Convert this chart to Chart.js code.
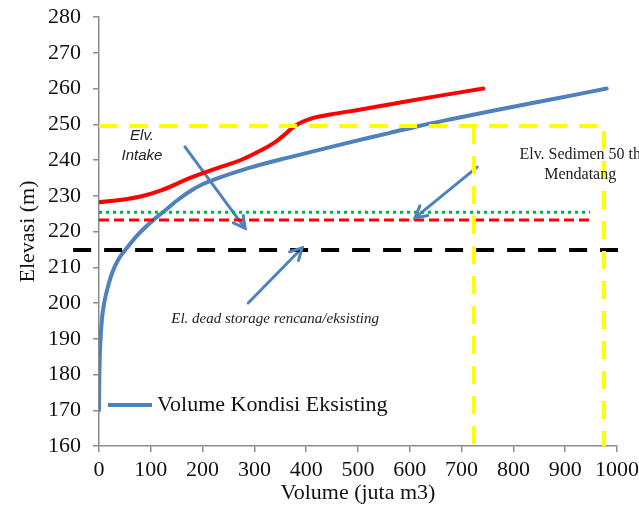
<!DOCTYPE html>
<html><head><meta charset="utf-8">
<script src="https://cdn.jsdelivr.net/npm/chart.js@4/dist/chart.umd.min.js"></script>
<style>html,body{margin:0;padding:0;background:#fff}canvas{display:block}</style>
</head><body>
<canvas id="c" width="639" height="514"></canvas>
<script>
// ---- data ----
const volumeEksisting = [0, 0.5, 1.5, 3, 6, 10, 18, 27, 38, 56, 73, 108, 127, 150, 175, 200, 235, 290, 369, 460, 562, 620, 672, 775, 890, 980];
const elevEksisting   = [170, 178, 185, 190, 196, 200, 205, 209, 212.3, 215.8, 218.8, 223.6, 225.8, 228.6, 231.2, 233.2, 235.2, 237.8, 240.8, 244.1, 247.6, 249.6, 251.2, 254.2, 257.4, 260];

const volumeIntake = [0, 40, 80, 120, 176, 230, 274, 310, 340, 360, 375, 390, 410, 450, 500, 563, 650, 742];
const elevIntake   = [228.2, 228.8, 229.8, 231.5, 235, 237.8, 240, 242.5, 245, 247.3, 249.2, 250.5, 251.6, 252.8, 254, 255.6, 257.8, 260];

const sedimenX  = [0, 975, 975];
const sedimenY  = [249.5, 249.5, 160];
const sedimen2X = [724, 724];
const sedimen2Y = [249.5, 160];

const greenX = [0, 948];
const greenY = [225.4, 225.4];
const redDashX = [0, 950];
const redDashY = [223.2, 223.2];
const deadX = [-50, 1002];
const deadY = [214.8, 214.8];

const arrowIntakeX = [166, 282];
const arrowIntakeY = [243.7, 220.9];
const arrowSedimenX = [730, 610];
const arrowSedimenY = [238, 223.8];
const arrowDeadX = [288, 392];
const arrowDeadY = [200, 215.4];

const xTicksMin = 0, xTicksMax = 1000, xStep = 100;
const yTicksMin = 160, yTicksMax = 280, yStep = 10;

const notes = [
  {text: 'Elv.', x: 83, y: 246.7, font: 'italic 15px "Liberation Sans"'},
  {text: 'Intake', x: 83, y: 241.1, font: 'italic 15px "Liberation Sans"'},
  {text: 'Elv. Sedimen 50 th', x: 929, y: 241.4, font: '16px "Liberation Serif"'},
  {text: 'Mendatang', x: 929, y: 235.8, font: '16px "Liberation Serif"'},
  {text: 'El. dead storage rencana/eksisting', x: 340, y: 195.5, font: 'italic 15px "Liberation Serif"'}
];
const legendLabel = 'Volume Kondisi Eksisting';

const BLUE = '#4f81bd';
const toXY = (xs, ys) => xs.map((x, i) => ({x: x, y: ys[i]}));

const overlay = {
  id: 'overlay',
  afterDatasetsDraw(chart) {
    const ctx = chart.ctx;
    const xs = chart.scales.x, ys = chart.scales.y;
    chart.data.datasets.forEach((ds, i) => {
      if (!ds.arrow) return;
      const pts = chart.getDatasetMeta(i).data;
      const a = pts[pts.length - 2], b = pts[pts.length - 1];
      const ang = Math.atan2(b.y - a.y, b.x - a.x);
      const L = 13;
      ctx.save();
      ctx.strokeStyle = ds.borderColor;
      ctx.lineWidth = ds.borderWidth;
      ctx.lineCap = 'round';
      ctx.beginPath();
      ctx.moveTo(b.x - L * Math.cos(ang - 0.5), b.y - L * Math.sin(ang - 0.5));
      ctx.lineTo(b.x, b.y);
      ctx.lineTo(b.x - L * Math.cos(ang + 0.5), b.y - L * Math.sin(ang + 0.5));
      ctx.stroke();
      ctx.restore();
    });
    ctx.save();
    ctx.fillStyle = '#222';
    ctx.textAlign = 'center';
    ctx.textBaseline = 'middle';
    notes.forEach(n => {
      ctx.font = n.font;
      ctx.fillText(n.text, xs.getPixelForValue(n.x), ys.getPixelForValue(n.y));
    });
    const ly = chart.chartArea.bottom - 41;
    const lx = chart.chartArea.left + 9;
    ctx.strokeStyle = BLUE;
    ctx.lineWidth = 4;
    ctx.beginPath();
    ctx.moveTo(lx, ly);
    ctx.lineTo(lx + 44, ly);
    ctx.stroke();
    ctx.font = '22px "Liberation Serif"';
    ctx.textAlign = 'left';
    ctx.fillStyle = '#111';
    ctx.fillText(legendLabel, lx + 49, ly);
    ctx.restore();
  }
};

const lineDs = (label, xs, ys, color, width, dash, extra) => Object.assign({
  label: label, data: toXY(xs, ys), borderColor: color, borderWidth: width,
  borderDash: dash || [], pointRadius: 0, fill: false, tension: 0, borderCapStyle: 'butt'
}, extra || {});

new Chart(document.getElementById('c'), {
  type: 'line',
  data: {
    datasets: [
      lineDs('Sedimen', sedimenX, sedimenY, '#ffff00', 4, [18, 12]),
      lineDs('Sedimen2', sedimen2X, sedimen2Y, '#ffff00', 4, [18, 12]),
      lineDs('Green', greenX, greenY, '#00b050', 3, [3, 4]),
      lineDs('RedDash', redDashX, redDashY, '#ff0000', 3, [10, 5]),
      lineDs('Dead', deadX, deadY, '#000000', 4, [18, 13], {clip: false}),
      lineDs('Intake', volumeIntake, elevIntake, '#ff0000', 4, null, {cubicInterpolationMode: 'monotone', borderCapStyle: 'round'}),
      lineDs(legendLabel, volumeEksisting, elevEksisting, BLUE, 4, null, {cubicInterpolationMode: 'monotone', borderCapStyle: 'round'}),
      lineDs('a1', arrowIntakeX, arrowIntakeY, BLUE, 3, null, {arrow: true, borderCapStyle: 'round'}),
      lineDs('a2', arrowSedimenX, arrowSedimenY, BLUE, 3, null, {arrow: true, borderCapStyle: 'round'}),
      lineDs('a3', arrowDeadX, arrowDeadY, BLUE, 3, null, {arrow: true, borderCapStyle: 'round'})
    ]
  },
  options: {
    responsive: false,
    animation: false,
    devicePixelRatio: 1,
    layout: {padding: {top: 17, right: 22, left: 0, bottom: 0}},
    plugins: {legend: {display: false}, tooltip: {enabled: false}},
    scales: {
      x: {
        type: 'linear', min: xTicksMin, max: xTicksMax,
        ticks: {stepSize: xStep, color: '#111', padding: 5, maxRotation: 0,
                callback: v => String(v),
                font: {family: 'Liberation Serif', size: 22}},
        grid: {drawOnChartArea: false, drawTicks: true, tickLength: 6, color: '#8c8c8c', lineWidth: 1.5},
        border: {display: true, color: '#8c8c8c', width: 1.5},
        title: {display: true, text: 'Volume (juta m3)', color: '#111', padding: {top: 0, bottom: 8},
                font: {family: 'Liberation Serif', size: 22}},
        afterFit(a) { a.height = 68; a.paddingLeft = 0; a.paddingRight = 0; }
      },
      y: {
        type: 'linear', min: yTicksMin, max: yTicksMax,
        ticks: {stepSize: yStep, color: '#111', padding: 12,
                font: {family: 'Liberation Serif', size: 22}},
        grid: {drawOnChartArea: false, drawTicks: true, tickLength: 6, color: '#8c8c8c', lineWidth: 1.5},
        border: {display: true, color: '#8c8c8c', width: 1.5},
        title: {display: true, text: 'Elevasi (m)', color: '#111', padding: {top: 15, bottom: 0},
                font: {family: 'Liberation Serif', size: 22}},
        afterFit(a) { a.width = 99; a.paddingTop = 0; a.paddingBottom = 0; }
      }
    }
  },
  plugins: [overlay]
});
</script>
</body></html>
